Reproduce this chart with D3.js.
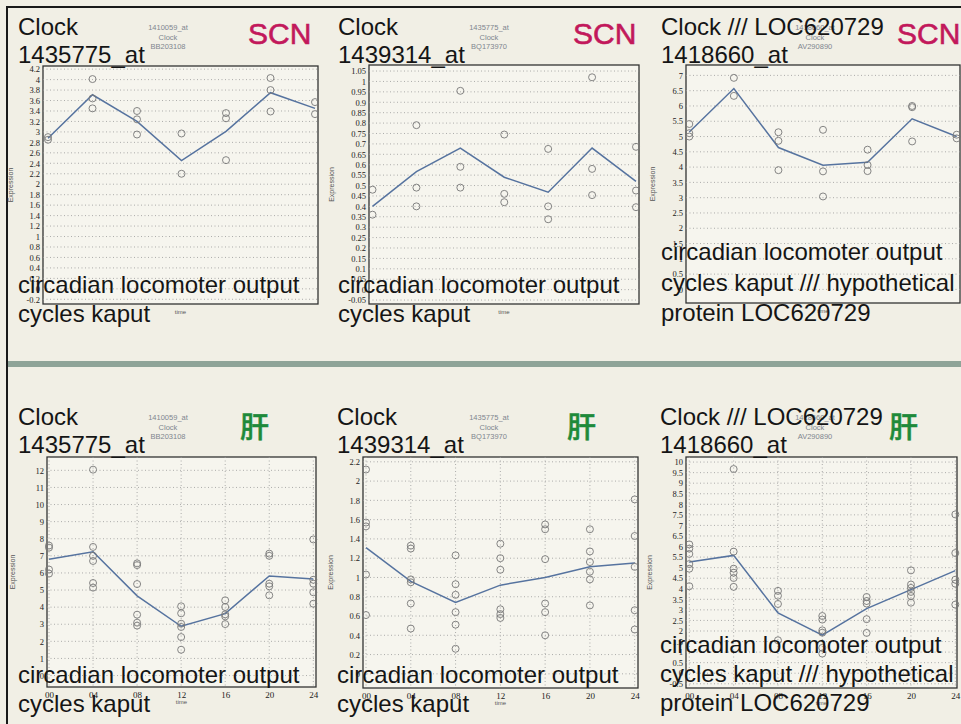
<!DOCTYPE html>
<html>
<head>
<meta charset="utf-8">
<script src="https://cdn.jsdelivr.net/npm/d3@7"></script>
<style>
body { margin: 0; background: #f1efe5; }
</style>
</head>
<body>
<div id="chart"></div>
<script>
// sampling times (hours) and their labels
var times = [0, 4, 8, 12, 16, 20, 24];
var timeLabels = ["00", "04", "08", "12", "16", "20", "24"];

// SCN - Clock 1435775_at (replicates per time, then group mean)
var scn1Points = [[2.90, 2.85], [4.01, 3.64, 3.45], [3.40, 3.24, 2.95], [2.97, 2.20],
                  [3.36, 3.26, 2.46], [4.03, 3.80, 3.39], [3.57, 3.34]];
var scn1Mean = [2.88, 3.71, 3.20, 2.45, 3.01, 3.75, 3.45];
var scn1Ticks = [-0.2, 0, 0.2, 0.4, 0.6, 0.8, 1, 1.2, 1.4, 1.6, 1.8, 2, 2.2, 2.4, 2.6, 2.8, 3, 3.2, 3.4, 3.6, 3.8, 4, 4.2];

// SCN - Clock 1439314_at
var scn2Points = [[0.48, 0.36], [0.79, 0.49, 0.40], [0.955, 0.59, 0.49], [0.745, 0.46, 0.42],
                  [0.676, 0.40, 0.338], [1.02, 0.58, 0.454], [0.686, 0.476, 0.396]];
var scn2Mean = [0.40, 0.567, 0.68, 0.54, 0.468, 0.68, 0.52];
var scn2Ticks = [-0.05, 0, 0.05, 0.1, 0.15, 0.2, 0.25, 0.3, 0.35, 0.4, 0.45, 0.5, 0.55, 0.6, 0.65, 0.7, 0.75, 0.8, 0.85, 0.9, 0.95, 1, 1.05];

// SCN - Clock /// LOC620729 1418660_at
var scn3Points = [[5.41, 5.11, 5.00], [6.92, 6.33], [5.14, 4.86, 3.90], [5.22, 3.86, 3.04],
                  [4.57, 4.07, 3.87], [6.00, 5.96, 4.84], [5.06, 4.94]];
var scn3Mean = [5.15, 6.57, 4.64, 4.06, 4.16, 5.58, 5.00];
var scn3Ticks = [0, 0.5, 1, 1.5, 2, 2.5, 3, 3.5, 4, 4.5, 5, 5.5, 6, 6.5, 7];

// liver - Clock 1435775_at
var liv1Points = [[7.60, 7.48, 6.20, 5.96], [12.04, 7.52, 7.00, 6.70, 5.41, 5.14],
                  [6.56, 6.46, 5.35, 3.56, 3.09, 2.92], [4.05, 3.64, 3.03, 2.84, 2.25, 1.51],
                  [4.40, 4.01, 3.58, 3.46, 3.01], [7.13, 7.00, 5.37, 5.22, 4.69],
                  [7.96, 5.60, 5.37, 4.87, 4.20]];
var liv1Mean = [6.80, 7.24, 4.66, 2.88, 3.62, 5.82, 5.65];
var liv1Ticks = [0, 1, 2, 3, 4, 5, 6, 7, 8, 9, 10, 11, 12];

// liver - Clock 1439314_at
var liv2Points = [[2.12, 1.57, 1.53, 1.03, 0.61], [1.33, 1.30, 0.98, 0.95, 0.73, 0.47],
                  [1.23, 0.93, 0.82, 0.64, 0.51, 0.26], [1.35, 1.20, 1.08, 0.67, 0.62, 0.58],
                  [1.55, 1.50, 1.19, 0.73, 0.64, 0.40], [1.50, 1.27, 1.16, 1.06, 0.98, 0.71],
                  [1.81, 1.43, 1.11, 0.66, 0.46]];
var liv2Mean = [1.31, 0.96, 0.74, 0.92, 1.00, 1.11, 1.15];
var liv2Ticks = [0, 0.2, 0.4, 0.6, 0.8, 1, 1.2, 1.4, 1.6, 1.8, 2, 2.2];

// liver - Clock /// LOC620729 1418660_at
var liv3Points = [[6.10, 5.90, 5.65, 5.17, 4.95, 4.12], [9.67, 5.76, 4.95, 4.76, 4.51, 4.09],
                  [3.90, 3.67, 3.28, 1.56], [2.71, 2.54, 2.03, 1.92, 1.20, 0.93],
                  [3.61, 3.42, 3.30, 2.56, 1.91], [4.87, 4.20, 4.04, 3.85, 3.66, 3.34],
                  [7.52, 5.69, 4.43, 4.24, 3.25]];
var liv3Mean = [5.27, 5.58, 2.86, 1.80, 3.06, 3.96, 4.86];
var liv3Ticks = [-0.5, 0, 0.5, 1, 1.5, 2, 2.5, 3, 3.5, 4, 4.5, 5, 5.5, 6, 6.5, 7, 7.5, 8, 8.5, 9, 9.5, 10];

// text labels
var geneNames = ["Clock", "Clock", "Clock /// LOC620729"];
var probeIds = ["1435775_at", "1439314_at", "1418660_at"];
var smallHeaders = [["1410059_at", "Clock", "BB203108"],
                    ["1435775_at", "Clock", "BQ173970"],
                    ["1418660_at", "Clock", "AV290890"]];
var descShort = ["circadian locomoter output", "cycles kaput"];
var descLong = ["circadian locomoter output", "cycles kaput /// hypothetical", "protein LOC620729"];
var tissueLabels = ["SCN", "肝"];

var width = 961, height = 724;

var svg = d3.select("#chart").append("svg")
    .attr("width", width)
    .attr("height", height)
    .style("display", "block");

svg.append("rect").attr("width", width).attr("height", height).attr("fill", "#f1efe5");

// page frame + divider band
svg.append("line").attr("x1", 7).attr("x2", 7).attr("y1", 6).attr("y2", height)
    .attr("stroke", "#1a1a1a").attr("stroke-width", 2);
svg.append("line").attr("x1", 6).attr("x2", width).attr("y1", 7).attr("y2", 7)
    .attr("stroke", "#1a1a1a").attr("stroke-width", 2);
svg.append("rect").attr("x", 8).attr("y", 361).attr("width", width - 8).attr("height", 6)
    .attr("fill", "#8fa498");

// panel layout (box in pixels, y domain from box edges)
var panels = [
  {pts: scn1Points, mean: scn1Mean, ticks: scn1Ticks, box: [43, 66, 275, 238], yDom: [-0.29, 4.26], pad: [5, 3],
   gene: 0, row: 0, tx: 18, tagX: 248, exprX: 13},
  {pts: scn2Points, mean: scn2Mean, ticks: scn2Ticks, box: [369, 65, 270, 239], yDom: [-0.069, 1.079], pad: [3.5, 3],
   gene: 1, row: 0, tx: 338, tagX: 573, exprX: 334},
  {pts: scn3Points, mean: scn3Mean, ticks: scn3Ticks, box: [686, 65, 274, 238], yDom: [-0.445, 7.34], pad: [3.3, 3.3],
   gene: 2, row: 0, tx: 661, tagX: 897, exprX: 655},
  {pts: liv1Points, mean: liv1Mean, ticks: liv1Ticks, box: [47, 457, 269, 230], yDom: [-0.67, 12.78], pad: [2, 2.7],
   gene: 0, row: 1, tx: 18, tagX: 240, exprX: 15},
  {pts: liv2Points, mean: liv2Mean, ticks: liv2Ticks, box: [363, 457, 275, 231], yDom: [-0.147, 2.25], pad: [3, 3.3],
   gene: 1, row: 1, tx: 337, tagX: 567, exprX: 333},
  {pts: liv3Points, mean: liv3Mean, ticks: liv3Ticks, box: [686, 457, 271, 231], yDom: [-0.7, 10.24], pad: [3.3, 1.7],
   gene: 2, row: 1, tx: 660, tagX: 889, exprX: 652}
];

var fmt = function (v) { return String(+v.toFixed(2)); };

panels.forEach(function (p, k) {
    var bx = p.box[0], by = p.box[1], bw = p.box[2], bh = p.box[3];
    var top = p.row === 0 ? 0 : 390;
    var g = svg.append("g");

    var x = d3.scaleLinear().domain([0, 24]).range([bx + p.pad[0], bx + bw - p.pad[1]]);
    var y = d3.scaleLinear().domain(p.yDom).range([by + bh, by]);

    // small grey header
    var hx = [168, 489, 815][p.gene];
    smallHeaders[p.gene].forEach(function (t, i) {
        g.append("text").attr("x", hx).attr("y", top + 30 + i * 9.5)
            .attr("text-anchor", "middle")
            .attr("font-family", "Liberation Sans, Arial, sans-serif")
            .attr("font-size", 7.5).attr("fill", "#80868f").text(t);
    });

    g.append("rect").attr("x", bx).attr("y", by).attr("width", bw).attr("height", bh)
        .attr("fill", "#f6f5ee").attr("stroke", "#333").attr("stroke-width", 1.3);

    // dotted grid
    g.selectAll(".hg").data(p.ticks).enter().append("line")
        .attr("x1", bx).attr("x2", bx + bw)
        .attr("y1", function (d) { return y(d); }).attr("y2", function (d) { return y(d); })
        .attr("stroke", "#999").attr("stroke-width", 0.8).attr("stroke-dasharray", "1,2.5");
    if (p.row === 1) {
        g.selectAll(".vg").data(times).enter().append("line")
            .attr("x1", function (d) { return x(d); }).attr("x2", function (d) { return x(d); })
            .attr("y1", by).attr("y2", by + bh)
            .attr("stroke", "#999").attr("stroke-width", 0.8).attr("stroke-dasharray", "1,2.5");
    }

    // y axis
    var ya = g.append("g").attr("transform", "translate(" + bx + ",0)")
        .call(d3.axisLeft(y).tickValues(p.ticks).tickSize(0).tickPadding(3).tickFormat(fmt));
    ya.select(".domain").remove();
    ya.selectAll("text").attr("font-family", "Liberation Serif, Times, serif")
        .attr("font-size", 8.5).attr("fill", "#222");

    // x axis (only liver row shows tick labels)
    if (p.row === 1) {
        var xa = g.append("g").attr("transform", "translate(0," + (by + bh) + ")")
            .call(d3.axisBottom(x).tickValues(times).tickSize(0).tickPadding(5)
                .tickFormat(function (d, i) { return timeLabels[i]; }));
        xa.select(".domain").remove();
        xa.selectAll("text").attr("font-family", "Liberation Serif, Times, serif")
            .attr("font-size", 9).attr("fill", "#222");
    }

    g.append("text").attr("x", bx + bw * 0.5).attr("y", by + bh + (p.row === 0 ? 10 : 17))
        .attr("text-anchor", "middle").attr("font-family", "Liberation Sans, Arial, sans-serif")
        .attr("font-size", 6).attr("fill", "#555").text("time");
    g.append("text").attr("transform", "translate(" + p.exprX + "," + (by + bh / 2) + ") rotate(-90)")
        .attr("text-anchor", "middle").attr("font-family", "Liberation Sans, Arial, sans-serif")
        .attr("font-size", 7).attr("fill", "#555").text("Expression");

    // mean line
    var line = d3.line().x(function (d, i) { return x(times[i]); }).y(function (d) { return y(d); });
    g.append("path").datum(p.mean).attr("d", line)
        .attr("fill", "none").attr("stroke", "#56739f").attr("stroke-width", 1.5);

    // replicate circles
    var flat = [];
    p.pts.forEach(function (arr, i) {
        arr.forEach(function (v) { flat.push({t: times[i], v: v}); });
    });
    g.selectAll(".pt").data(flat).enter().append("circle")
        .attr("cx", function (d) { return x(d.t); })
        .attr("cy", function (d) { return y(d.v); })
        .attr("r", 3.5).attr("fill", "none").attr("stroke", "#777").attr("stroke-width", 0.9);

    // big labels on top
    var big = function (txt, xx, yy) {
        g.append("text").attr("x", xx).attr("y", yy)
            .attr("font-family", "Liberation Sans, Arial, sans-serif")
            .attr("font-size", 24).attr("fill", "#151515").text(txt);
    };
    big(geneNames[p.gene], p.tx, top + 35);
    big(probeIds[p.gene], p.tx, top + 63);

    var desc = p.gene === 2 ? descLong : descShort;
    var base = p.row === 0 ? (p.gene === 2 ? [260, 291, 321] : [293, 322])
                           : (p.gene === 2 ? [653, 682, 711] : [683, 712]);
    desc.forEach(function (t, i) { big(t, p.tx, base[i]); });

    if (p.row === 0) {
        g.append("text").attr("x", p.tagX).attr("y", 44)
            .attr("font-family", "Liberation Sans, Arial, sans-serif")
            .attr("font-size", 30).attr("fill", "#c2185b")
            .attr("stroke", "#c2185b").attr("stroke-width", 0.6).text(tissueLabels[0]);
    } else {
        g.append("text").attr("x", p.tagX).attr("y", 438)
            .attr("font-family", "Noto Sans CJK JP, sans-serif").attr("font-weight", 500)
            .attr("font-size", 29).attr("fill", "#1e8a3a")
            .attr("stroke", "#1e8a3a").attr("stroke-width", 0.5).text(tissueLabels[1]);
    }
});
</script>
</body>
</html>
